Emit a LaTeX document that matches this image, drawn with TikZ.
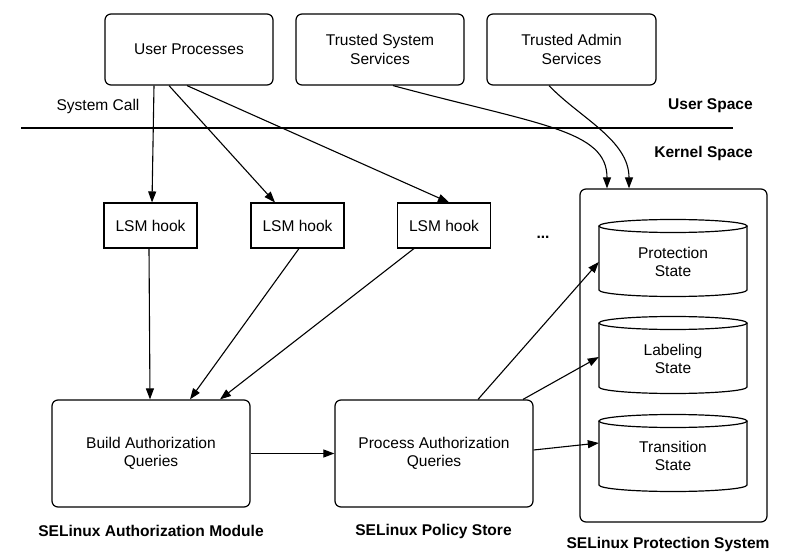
\documentclass[tikz,border=0pt]{standalone}
\usepackage{fontspec}
\setmainfont{Liberation Sans}
\usetikzlibrary{arrows.meta,calc}
\begin{document}
\begin{tikzpicture}[x=1bp,y=-1bp,
  every node/.style={font=\fontsize{15.6}{18.5}\selectfont, align=center, inner sep=0pt},
  rbox/.style={draw, rounded corners=6bp, line width=1.2bp, minimum width=168bp, minimum height=71bp},
  hookbox/.style={draw, line width=1.1bp, minimum width=93bp, minimum height=45bp},
  arr/.style={-{Triangle[length=11bp,width=8bp]}, line width=1.1bp},
  lbl/.style={font=\fontsize{15.6}{18}\selectfont\bfseries},
  cyl/.style={line width=1.2bp}
]
\useasboundingbox (0,0) rectangle (810,554);

% top boxes
\node[rbox] (up) at (189,49.5) {User Processes};
\node[rbox] (ts) at (380,49.5) {Trusted System\\Services};
\node[rbox, minimum width=169bp] (ta) at (571.5,49.5) {Trusted Admin\\Services};

\node (sc) at (98,106) {System Call};
\node[lbl, anchor=east] (us) at (753,106) {User Space};
\node[lbl, anchor=east] (ks) at (753,153) {Kernel Space};
\coordinate (l1) at (21,128);
\coordinate (l2) at (733,128);
\draw[line width=1.4bp] (l1) -- (l2);

% hooks
\node[hookbox] (h1) at (150.5,225.5) {LSM hook};
\node[hookbox] (h2) at (297.5,225.5) {LSM hook};
\node[hookbox] (h3) at (444,225.5) {LSM hook};
\node[lbl] (dots) at (543,237) {...};

% modules
\node[rbox, minimum width=198bp, minimum height=107bp] (build) at (151,453.5) {Build Authorization\\Queries};
\node[rbox, minimum width=198bp, minimum height=107bp] (proc) at (434,453.5) {Process Authorization\\Queries};

% protection system
\node[draw, rounded corners=6bp, line width=1.2bp, minimum width=187bp, minimum height=333bp] (pbox) at (673.5,355.5) {};
\foreach \t/\b in {226/290, 323/387, 421/485}{
  \draw[cyl] (673,\t) ellipse[x radius=74bp, y radius=6.5bp];
  \draw[cyl] (599,\t) -- (599,\b) arc[start angle=180, end angle=360, x radius=74bp, y radius=6.5bp] -- (747,\t);
}
\node[minimum width=148bp, minimum height=60bp] (prot) at (673,262) {Protection\\State};
\node[minimum width=148bp, minimum height=60bp] (lab) at (673,359) {Labeling\\State};
\node[minimum width=148bp, minimum height=60bp] (trans) at (673,456) {Transition\\State};

% captions
\node[lbl] (c1) at (151,531) {SELinux Authorization Module};
\node[lbl] (c2) at (433.5,531) {SELinux Policy Store};
\node[lbl] (c3) at (668,544) {SELinux Protection System};

% arrows
\draw[arr] ([xshift=-35bp]up.south) -- ([xshift=1.5bp]h1.north);
\draw[arr] ([xshift=-20bp]up.south) -- ([xshift=-22.5bp]h2.north);
\draw[arr] ([xshift=-2bp]up.south) -- ([xshift=5bp]h3.north);
\draw[arr] ([xshift=13bp]ts.south) .. controls (540,125) and (607,130) .. ([xshift=-66.5bp]pbox.north);
\draw[arr] ([xshift=-22.5bp]ta.south) .. controls (580,118) and (629,140) .. ([xshift=-44.5bp]pbox.north);

\draw[arr] ([xshift=-1.5bp]h1.south) -- ([xshift=-1bp]build.north);
\draw[arr] ([xshift=1.5bp]h2.south) -- ([xshift=39bp]build.north);
\draw[arr] ([xshift=-30bp]h3.south) -- ([xshift=69bp]build.north);
\draw[arr] (build.east) -- (proc.west);

\draw[arr] ([xshift=44bp]proc.north) -- (prot.west);
\draw[arr] ([xshift=89bp]proc.north) -- ([yshift=2bp]lab.west);
\draw[arr] ([yshift=3.5bp]proc.east) -- ([yshift=13bp]trans.west);
\end{tikzpicture}
\end{document}
